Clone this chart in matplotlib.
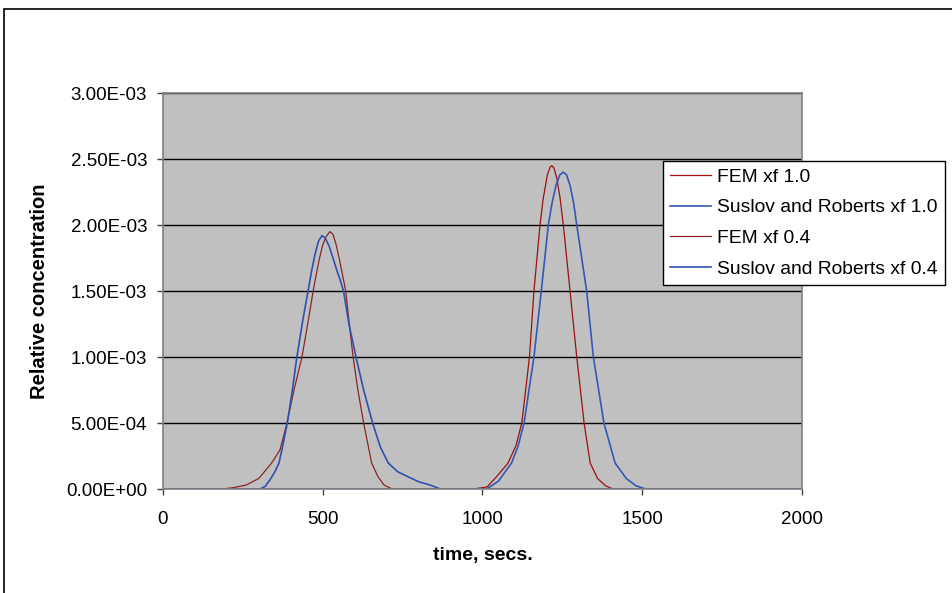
import matplotlib
matplotlib.use("Agg")
import matplotlib.pyplot as plt
from matplotlib.patches import Rectangle
from matplotlib.ticker import FuncFormatter, MultipleLocator

plt.rcParams["font.family"] = ["Liberation Sans", "DejaVu Sans"]

# FEM xf 1.0 (second pulse)
t_fem_10 = [0, 970, 1000, 1014, 1044, 1080, 1105, 1123, 1147, 1161, 1180, 1190,
            1203, 1212, 1217, 1224, 1233, 1243, 1253, 1274, 1295, 1318, 1337,
            1360, 1385, 1408, 2000]
c_fem_10 = [0, 0, 1.0e-5, 1.5e-5, 9.3e-5, 1.97e-4, 3.3e-4, 5.0e-4, 1.0e-3, 1.5e-3,
            2.0e-3, 2.2e-3, 2.38e-3, 2.44e-3, 2.45e-3, 2.43e-3, 2.35e-3, 2.2e-3,
            2.0e-3, 1.5e-3, 1.0e-3, 5.0e-4, 1.97e-4, 8.0e-5, 2.5e-5, 0, 0]

# Suslov and Roberts xf 1.0
t_sr_10 = [0, 1013, 1050, 1091, 1112, 1130, 1161, 1184, 1206, 1218, 1230, 1242,
           1253, 1263, 1274, 1285, 1295, 1326, 1347, 1380, 1415, 1450, 1480,
           1510, 2000]
c_sr_10 = [0, 0, 6.0e-5, 1.97e-4, 3.3e-4, 5.0e-4, 1.0e-3, 1.5e-3, 2.0e-3, 2.17e-3,
           2.3e-3, 2.38e-3, 2.4e-3, 2.38e-3, 2.3e-3, 2.17e-3, 2.0e-3, 1.5e-3,
           1.0e-3, 5.0e-4, 1.97e-4, 8.0e-5, 2.5e-5, 0, 0]

# FEM xf 0.4 (first pulse)
t_fem_04 = [0, 185, 220, 260, 300, 340, 366, 388, 410, 435, 455, 470, 480, 490,
            500, 510, 522, 532, 542, 552, 562, 572, 583, 595, 610, 628, 653, 673,
            692, 717, 2000]
c_fem_04 = [0, 0, 1.0e-5, 3.0e-5, 8.0e-5, 1.97e-4, 2.95e-4, 5.0e-4, 7.5e-4,
            1.0e-3, 1.28e-3, 1.5e-3, 1.63e-3, 1.75e-3, 1.85e-3, 1.91e-3, 1.95e-3,
            1.93e-3, 1.85e-3, 1.74e-3, 1.62e-3, 1.5e-3, 1.25e-3, 1.0e-3, 7.5e-4,
            5.0e-4, 1.97e-4, 9.3e-5, 3.0e-5, 0, 0]

# Suslov and Roberts xf 0.4
t_sr_04 = [0, 304, 320, 335, 350, 363, 375, 389, 405, 419, 437, 454, 465, 476,
           487, 498, 508, 520, 532, 545, 555, 565, 582, 604, 628, 656, 680, 705,
           735, 767, 800, 836, 868, 2000]
c_sr_04 = [0, 0, 2.0e-5, 7.0e-5, 1.3e-4, 1.97e-4, 3.3e-4, 5.0e-4, 7.5e-4, 1.0e-3,
           1.27e-3, 1.5e-3, 1.65e-3, 1.78e-3, 1.88e-3, 1.92e-3, 1.9e-3, 1.84e-3,
           1.75e-3, 1.65e-3, 1.58e-3, 1.5e-3, 1.25e-3, 1.0e-3, 7.5e-4, 5.0e-4,
           3.2e-4, 1.97e-4, 1.3e-4, 9.3e-5, 5.5e-5, 3.0e-5, 0, 0]

W, H = 952, 593
fig = plt.figure(figsize=(W / 100, H / 100), dpi=100)
fig.patch.set_facecolor("white")

# chart-area border (runs off the right and bottom edges)
fig.patches.append(Rectangle((4 / W, -0.2), 1.2, 1 - 9 / H + 0.2,
                             transform=fig.transFigure, fill=False,
                             edgecolor="black", linewidth=1.2))

ax = fig.add_axes([163 / W, 1 - 489 / H, (802 - 163) / W, (489 - 93) / H])
ax.set_facecolor("#C0C0C0")

red_a, red_b = "#9B1010", "#8B2525"
blue_a, blue_b = "#3458B8", "#2F50B0"
ax.plot(t_fem_10, c_fem_10, color=red_a, lw=0.9, label="FEM xf 1.0")
ax.plot(t_sr_10, c_sr_10, color=blue_a, lw=1.2, label="Suslov and Roberts xf 1.0")
ax.plot(t_fem_04, c_fem_04, color=red_b, lw=0.9, label="FEM xf 0.4")
ax.plot(t_sr_04, c_sr_04, color=blue_b, lw=1.2, label="Suslov and Roberts xf 0.4")

ax.set_xlim(0, 2000)
ax.set_ylim(0, 3.0e-3)
ax.xaxis.set_major_locator(MultipleLocator(500))
ax.yaxis.set_major_locator(MultipleLocator(5.0e-4))
ax.yaxis.set_major_formatter(FuncFormatter(lambda v, _: f"{v:.2E}"))
ax.grid(True, axis="y", color="black", linewidth=1.0)
ax.set_axisbelow(True)

for side in ["top", "right", "left", "bottom"]:
    ax.spines[side].set_color("#808080")
    ax.spines[side].set_linewidth(1.2)

ax.tick_params(axis="both", direction="out", length=4.5, width=1,
               color="#404040", labelsize=13.5, labelcolor="black")
ax.tick_params(axis="y", pad=7)
ax.tick_params(axis="x", pad=11)

ax.set_xlabel("time, secs.", fontsize=14, fontweight="bold", labelpad=14)
ax.set_ylabel("Relative concentration", fontsize=14.5, fontweight="bold", labelpad=12)

leg = ax.legend(loc="upper left", bbox_to_anchor=(663 / W, 1 - 161 / H),
                bbox_transform=fig.transFigure, borderaxespad=0,
                frameon=True, fancybox=False, framealpha=1, fontsize=13.9,
                handlelength=2.1, handletextpad=0.3, labelspacing=0.68,
                borderpad=0.38)
leg.get_frame().set_edgecolor("black")
leg.get_frame().set_linewidth(1.0)

fig.savefig("out.png", dpi=100, facecolor="white")
